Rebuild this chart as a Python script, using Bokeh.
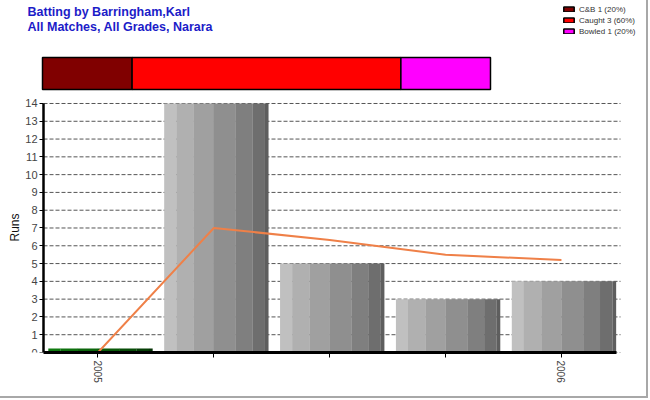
import math
from bokeh.plotting import figure
from bokeh.models import (Range1d, Label, Legend, LegendItem, FixedTicker,
                          ColumnDataSource)
from bokeh.embed import file_html
from bokeh.resources import INLINE

# ---------------- data ----------------
innings = [0, 1, 2, 3, 4]
runs = [0, 14, 5, 3, 4]
average = [0, 7, 6.33, 5.5, 5.2]
tick_labels = {0: "2005", 1: "", 2: "", 3: "", 4: "2006"}
y_ticks = list(range(0, 15))
dismissals = ["C&B", "Caught", "Bowled"]
dismissal_counts = [1, 3, 1]
dismissal_colors = ["#800000", "#ff0000", "#ff00ff"]
title_lines = ["Batting by Barringham,Karl", "All Matches, All Grades, Narara"]

# ---------------- styles ----------------
FONT = "Liberation Sans"
stripe_edges = [0, 0.116, 0.283, 0.476, 0.685, 0.846, 0.965, 1.0]
gray_stripes = ["#c0c0c0", "#b0b0b0", "#a0a0a0", "#8f8f8f", "#7f7f7f", "#6e6e6e", "#5e5e5e"]
green_stripes = ["#0f7a0f", "#0d700d", "#0b650b", "#095a09", "#074c07", "#053e05", "#043204"]
bar_width = 0.9
bar_offset = 0.022
zero_bar_height = 0.22
x_lo, x_hi = -0.47, 4.475      # extent of the category axis
grid_end = 4.51

W, H = 648, 398
p = figure(width=W, height=H, x_range=Range1d(-0.798, 4.665),
           y_range=Range1d(0, 19.79), output_backend="svg", toolbar_location=None,
           min_border_left=5, min_border_right=W - 638, min_border_top=0,
           min_border_bottom=H - 352)
p.styles = {"border-right": "2px solid #a8a8a8", "border-bottom": "2px solid #a8a8a8"}
p.outline_line_color = None
p.xgrid.visible = False
p.ygrid.visible = False

# extra ranges for the dismissal strip and texts above the chart
p.extra_x_ranges = {"dis": Range1d(-0.413, 6.652)}
p.extra_y_ranges = {"dis": Range1d(-8.72, 2.281)}

total = sum(dismissal_counts)
items = []
left = 0
for name, cnt, col in zip(dismissals, dismissal_counts, dismissal_colors):
    r = p.hbar(y=[0], left=[left], right=[left + cnt], height=1,
               fill_color=col, line_color="black", line_width=1.5,
               x_range_name="dis", y_range_name="dis")
    items.append(LegendItem(label=f"{name} {cnt} ({round(100 * cnt / total)}%)",
                            renderers=[r]))
    left += cnt

legend = Legend(items=items, location=(557, 316), padding=0, margin=0,
                border_line_color=None, background_fill_alpha=0,
                glyph_width=13, glyph_height=6, label_height=10, spacing=1,
                label_standoff=4, label_text_font=FONT, label_text_font_size="8px",
                label_text_color="#333333")
p.add_layout(legend)

for t, ty in zip(title_lines, [1.906, 1.4375]):
    p.add_layout(Label(x=-0.167, y=ty, x_range_name="dis", y_range_name="dis",
                       text=t, text_font=FONT, text_font_style="bold",
                       text_font_size="12.5px", text_color="#1c1cc8",
                       text_baseline="middle"))

# dashed horizontal grid
p.segment(x0=x_lo, x1=grid_end, y0=y_ticks, y1=y_ticks, line_color="#555555",
          line_width=1, line_dash="4 2")

# striped bars
for j in range(len(stripe_edges) - 1):
    a, b = stripe_edges[j], stripe_edges[j + 1]
    xs, tops, cols = [], [], []
    for x, v in zip(innings, runs):
        xs.append(x + bar_offset - bar_width / 2 + bar_width * (a + b) / 2)
        tops.append(v if v > 0 else zero_bar_height)
        cols.append(gray_stripes[j] if v > 0 else green_stripes[j])
    src = ColumnDataSource(dict(x=xs, top=tops, color=cols))
    p.vbar(x="x", top="top", bottom=0, width=bar_width * (b - a) * 1.01,
           fill_color="color", line_color=None, source=src)

p.line(innings, average, line_color="#ef8048", line_width=2)

p.yaxis.fixed_location = x_lo
p.yaxis.bounds = (0, 14)
p.yaxis.ticker = FixedTicker(ticks=y_ticks)
p.yaxis.major_label_text_font = FONT
p.yaxis.major_label_text_font_size = "11px"
p.yaxis.major_label_standoff = 2
p.yaxis.axis_line_width = 2.5
p.yaxis.major_tick_out = 4
p.yaxis.major_tick_in = 0
p.yaxis.minor_tick_line_color = None

p.add_layout(Label(x=-0.3125, y=-4.8125, x_range_name="dis", y_range_name="dis",
                   text="Runs", angle=math.pi / 2, text_align="center",
                   text_baseline="middle", text_font=FONT, text_font_size="12px",
                   text_color="#111111"))

p.xaxis.bounds = (x_lo, x_hi)
p.xaxis.ticker = FixedTicker(ticks=innings)
p.xaxis.major_label_overrides = tick_labels
p.xaxis.major_label_orientation = -math.pi / 2
p.xaxis.major_label_text_font = FONT
p.xaxis.major_label_text_font_size = "10px"
p.xaxis.major_label_standoff = 3
p.xaxis.axis_line_width = 3
p.xaxis.major_tick_out = 5
p.xaxis.major_tick_in = 0
p.xaxis.minor_tick_line_color = None

open("out.html", "w").write(file_html(p, INLINE))
